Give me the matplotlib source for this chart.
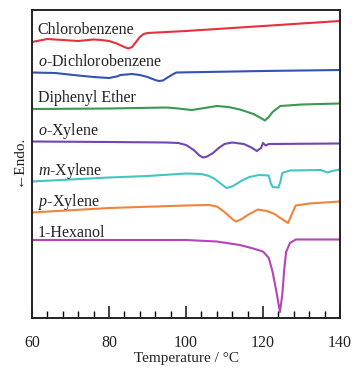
import matplotlib
matplotlib.use("Agg")
import matplotlib.pyplot as plt

plt.rcParams["font.family"] = ["Liberation Serif", "DejaVu Serif"]
plt.rcParams["mathtext.fontset"] = "custom"
plt.rcParams["mathtext.rm"] = "Liberation Serif"
plt.rcParams["mathtext.it"] = "Liberation Serif:italic"

# DSC heating traces, offset vertically (arbitrary heat-flow units)
t_chloro = [60, 64, 68, 72, 76, 78, 80, 82, 84, 85, 86, 87, 88, 89, 90, 100, 120, 140]
h_chloro = [276, 279, 278, 277, 278.5, 278, 277, 274.5, 271, 269.5, 271, 276, 281, 284, 285, 287, 292, 297]

t_dcb = [60, 66, 72, 76, 80, 82, 83, 86, 88, 90, 92, 93, 94, 95, 96.5, 97.5, 120, 140]
h_dcb = [245.5, 245, 242.5, 241, 240, 241.5, 243, 244, 243, 241, 238, 237, 237.5, 240, 243.5, 245.5, 247, 248]

t_dpe = [60, 80, 95, 98, 101.5, 104, 108, 111, 114, 116, 117.5, 119, 120.5, 121.5, 122.5, 124.5, 130, 140]
h_dpe = [209, 209.5, 210.5, 209.5, 208, 209.5, 212, 211, 208.5, 206, 204, 201, 197.5, 201, 206, 212, 213.5, 214.5]

t_oxy = [60, 80, 95, 98, 100, 102, 103.5, 104.4, 105.5, 107, 108.5, 110, 112, 115, 117, 118.4, 119.5, 120, 120.7, 121.5, 140]
h_oxy = [176.5, 176, 175.5, 175, 173, 168, 162.5, 160.5, 161.5, 165, 170, 174, 175.5, 174, 170.5, 167, 170, 175, 172.5, 174, 174.5]

t_mxy = [60, 70, 80, 90, 100, 104, 106, 107.5, 109, 110.5, 112, 113.5, 115, 116.5, 119, 121.5, 122, 122.5, 124, 124.5, 125, 127, 135, 136.8, 138, 140]
h_mxy = [136.5, 138.5, 140.5, 142, 144.5, 144, 142, 139, 134.5, 130, 131.5, 135, 138.5, 141, 143, 142.5, 135, 131, 130.5, 136, 145, 147.5, 148, 145.5, 147, 148.5]

t_pxy = [60, 80, 100, 106, 108, 110, 112, 113, 114.5, 116, 118.7, 121, 123, 124.5, 126.5, 127.5, 128.5, 132, 140]
h_pxy = [105.5, 110, 112.5, 113, 111.5, 106, 99, 96.5, 99, 103, 108.5, 107, 104, 100, 95, 104, 112.5, 114.5, 116.5]

t_hex = [60, 100, 108, 114, 117, 120, 121.5, 122.5, 123.5, 124.4, 125, 125.5, 126, 127, 128.5, 140]
h_hex = [78, 78, 76.5, 73, 70, 66.5, 60, 46, 26, 6, 23, 48, 66, 75, 78.5, 78.5]

names = ["Chlorobenzene", r"$o$-Dichlorobenzene", "Diphenyl Ether", r"$o$-Xylene",
         r"$m$-Xylene", r"$p$-Xylene", "1-Hexanol"]
colors = ["#e8303c", "#3352b5", "#3a9950", "#7046b5", "#45c4c4", "#f0843a", "#b545b5"]
label_y = [284, 251.5, 216.5, 183, 143, 111.5, 81]

series = [(t_chloro, h_chloro), (t_dcb, h_dcb), (t_dpe, h_dpe), (t_oxy, h_oxy),
          (t_mxy, h_mxy), (t_pxy, h_pxy), (t_hex, h_hex)]

fig = plt.figure(figsize=(3.55, 3.68), dpi=100)
ax = fig.add_axes([32 / 355, 50 / 368, 308 / 355, 308 / 368])

for (t, h), c, name, ly in zip(series, colors, names, label_y):
    ax.plot(t, h, color=c, lw=1.5, solid_joinstyle="round")
    ax.text(61.5, ly, name, fontsize=11.5, color="#222222", va="baseline", ha="left")

ax.set_xlim(60, 140)
ax.set_ylim(0, 308)
ax.set_xticks([60, 80, 100, 120, 140])
ax.set_xticks(list(range(64, 140, 4)), minor=True)
ax.set_yticks([])
ax.tick_params(axis="x", which="major", direction="in", length=9, width=1.2,
               labelsize=11.5, pad=12, colors="#222222")
ax.tick_params(axis="x", which="minor", direction="in", length=5, width=1.0)
for s in ax.spines.values():
    s.set_linewidth(1.4)
    s.set_color("#222222")

ax.set_xlabel("Temperature / °C", fontsize=11, labelpad=1, color="#222222")
fig.text(18 / 355, 1 - 160 / 368, "←Endo.", rotation=90, fontsize=11,
         ha="center", va="center", color="#222222")

fig.savefig("out.png", dpi=100)
